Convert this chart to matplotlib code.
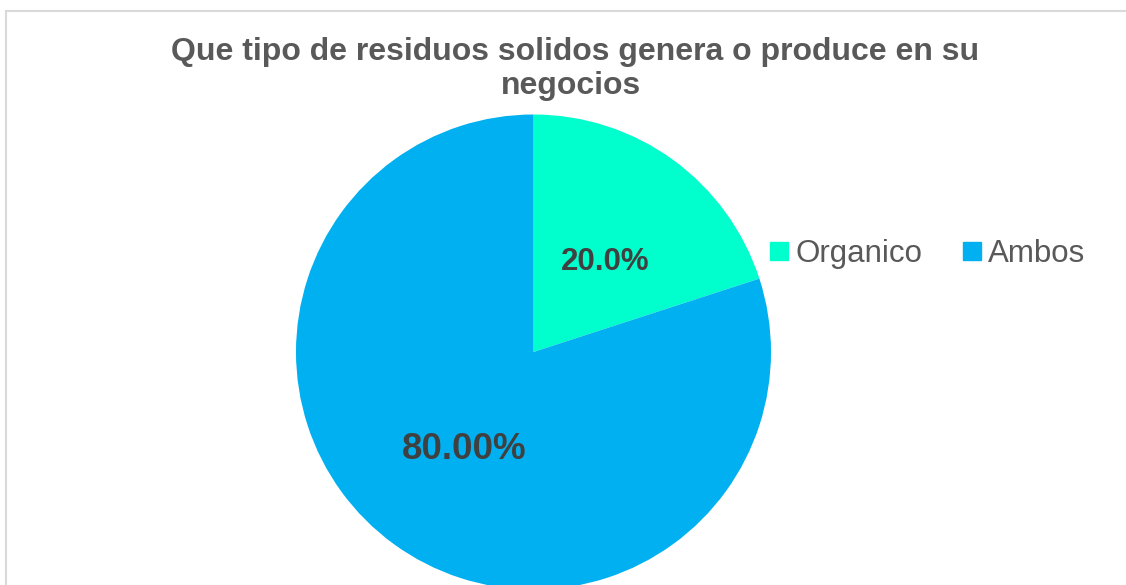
import matplotlib.pyplot as plt
from matplotlib.patches import Rectangle
from matplotlib.lines import Line2D

plt.rcParams['font.family'] = ['Liberation Sans', 'DejaVu Sans']

# datos
categorias = ["Organico", "Ambos"]
valores = [20.0, 80.0]
etiquetas = ["20.0%", "80.00%"]
colores = ["#00FFCC", "#00B0F0"]

W, H = 1126, 585
fig = plt.figure(figsize=(W / 100, H / 100), dpi=100)

# marco gris claro (cortado a la derecha y abajo)
fig.patches.append(Rectangle((6 / W, -0.5), 3, 1 - 11 / H + 0.5, transform=fig.transFigure,
                             fill=False, edgecolor="#D9D9D9", linewidth=1.5))

r_px = 237.5
cx, cy = 533.5, 352
ax = fig.add_axes([(cx - r_px) / W, (H - cy - r_px) / H, 2 * r_px / W, 2 * r_px / H])
wedges, _ = ax.pie(valores, colors=colores, startangle=90, counterclock=False, radius=1,
                   wedgeprops=dict(linewidth=0))
ax.set_xlim(-1, 1)
ax.set_ylim(-1, 1)
ax.set_aspect("equal")
ax.axis("off")

# etiquetas de porcentaje
ax.text(0.30, 0.38, etiquetas[0], ha="center", va="center", fontsize=22.5,
        fontweight="bold", color="#404040")
ax.text(-0.29, -0.41, etiquetas[1], ha="center", va="center", fontsize=26.5,
        fontweight="bold", color="#404040")

fig.text(575 / W, 1 - 52 / H, "Que tipo de residuos solidos genera o produce en su",
         ha="center", va="center", fontsize=23, fontweight="bold", color="#595959")
fig.text(571 / W, 1 - 86 / H, "negocios",
         ha="center", va="center", fontsize=23, fontweight="bold", color="#595959")

handles = [Line2D([], [], marker="s", linestyle="none", markersize=12.5,
                  markerfacecolor=c, markeredgecolor=c) for c in colores]
fig.legend(handles, categorias, loc="center left", bbox_to_anchor=(755 / W, 1 - 254 / H),
           ncol=2, frameon=False, fontsize=22.5, labelcolor="#595959",
           handlelength=0.55, handletextpad=0.25, columnspacing=1.3, borderpad=0)

fig.savefig("out.png", dpi=100)
